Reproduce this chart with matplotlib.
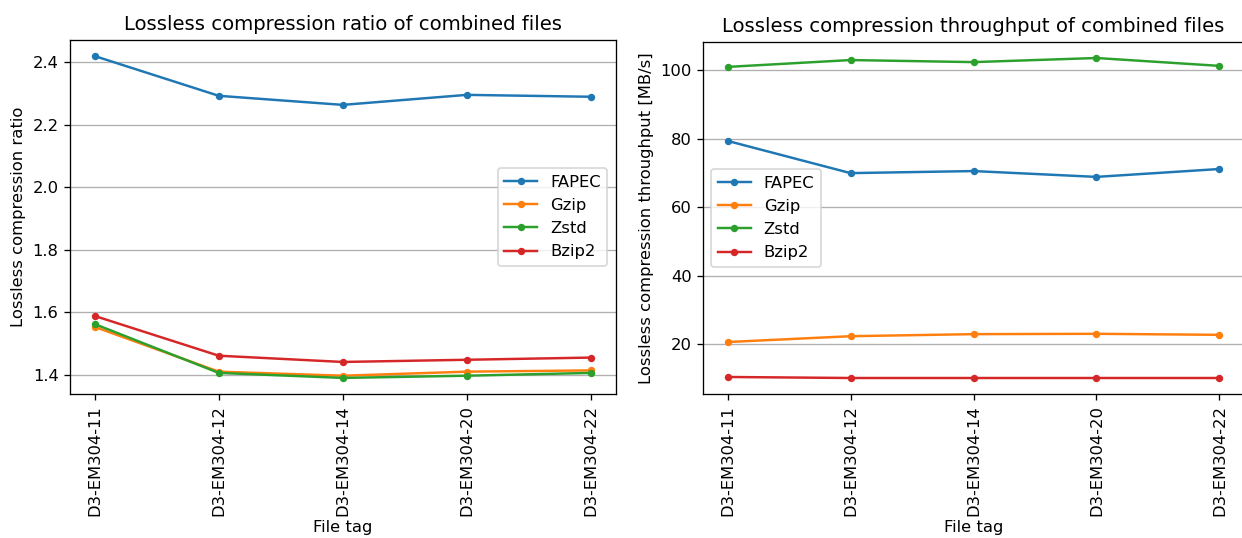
import matplotlib
matplotlib.use("Agg")
import matplotlib.pyplot as plt

tags = ["D3-EM304-11", "D3-EM304-12", "D3-EM304-14", "D3-EM304-20", "D3-EM304-22"]
algos = ["FAPEC", "Gzip", "Zstd", "Bzip2"]

ratio_fapec = [2.419, 2.292, 2.263, 2.295, 2.289]
ratio_gzip = [1.553, 1.410, 1.397, 1.410, 1.414]
ratio_zstd = [1.562, 1.406, 1.390, 1.397, 1.406]
ratio_bzip2 = [1.588, 1.461, 1.441, 1.448, 1.455]

thr_fapec = [79.3, 69.9, 70.5, 68.8, 71.1]
thr_gzip = [20.6, 22.3, 22.9, 23.0, 22.7]
thr_zstd = [100.9, 102.9, 102.3, 103.5, 101.2]
thr_bzip2 = [10.4, 10.1, 10.1, 10.1, 10.1]

ratios = [ratio_fapec, ratio_gzip, ratio_zstd, ratio_bzip2]
thrs = [thr_fapec, thr_gzip, thr_zstd, thr_bzip2]

W, H = 1242, 538
dpi = 118
fig, (ax1, ax2) = plt.subplots(1, 2, figsize=(W / dpi, H / dpi), dpi=dpi)
# axes placed in pixel terms (left, bottom, width, height)
ax1.set_position([70 / W, 1 - 394 / H, 545.5 / W, 354 / H])
ax2.set_position([703 / W, 1 - 394 / H, 541 / W, 352 / H])

for name, vals in zip(algos, ratios):
    ax1.plot(tags, vals, marker=".", markersize=7, label=name)
ax1.set_title("Lossless compression ratio of combined files")
ax1.set_ylabel("Lossless compression ratio")
ax1.set_xlabel("File tag", labelpad=2)
ax1.grid(axis="y")
ax1.legend(loc="center right")
ax1.tick_params(axis="x", rotation=90)

for name, vals in zip(algos, thrs):
    ax2.plot(tags, vals, marker=".", markersize=7, label=name)
ax2.set_title("Lossless compression throughput of combined files")
ax2.set_ylabel("Lossless compression throughput [MB/s]")
ax2.set_xlabel("File tag", labelpad=2)
ax2.grid(axis="y")
ax2.legend(loc="center left")
ax2.tick_params(axis="x", rotation=90)

fig.savefig("out.png")
